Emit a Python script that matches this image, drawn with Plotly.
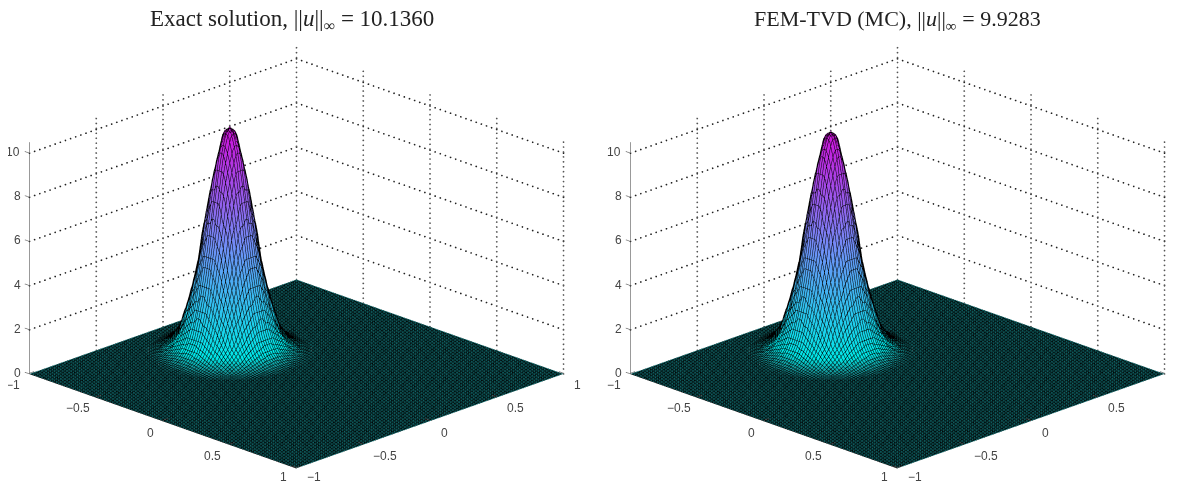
import numpy as np
import plotly.graph_objects as go

# Radial height profiles of the hill, one value per 0.01 of radius
exact_profile = [10.14, 10.11, 10.01, 9.86, 9.64, 9.37, 9.06, 8.69, 8.29, 7.86, 7.40,
                 6.93, 6.44, 5.95, 5.46, 4.99, 4.52, 4.08, 3.65, 3.26, 2.88,
                 2.53, 2.21, 1.92, 1.65, 1.42, 1.21, 1.02, 0.86, 0.72, 0.60,
                 0.49, 0.40, 0.32, 0.26, 0.21, 0.16, 0.12, 0.09, 0.06, 0.04, 0.02, 0.01, 0.0]
fem_profile = [9.93, 9.91, 9.82, 9.67, 9.46, 9.20, 8.89, 8.53, 8.14, 7.72, 7.27,
               6.81, 6.33, 5.85, 5.37, 4.90, 4.45, 4.02, 3.60, 3.21, 2.85,
               2.51, 2.20, 1.91, 1.65, 1.42, 1.21, 1.03, 0.87, 0.73, 0.61,
               0.50, 0.41, 0.33, 0.26, 0.21, 0.16, 0.12, 0.09, 0.06, 0.04, 0.02, 0.01, 0.0]
profile_step = 0.01
hill_center = (-0.5, 0.0)
mesh_cells = 128

xy_ticks = [-1, -0.5, 0, 0.5, 1]
z_ticks = [0, 2, 4, 6, 8, 10]
z_top = 10.5
x_label_shift = [(-16, -11), (-18, -11), (-12, -12), (-17, -11), (-13, -9)]
y_label_shift = [(17, -9), (22, -11), (14, -12), (19, -11), (14, -11)]
titles = ["Exact solution, ||<i>u</i>||<sub>∞</sub> = 10.1360",
          "FEM-TVD (MC), ||<i>u</i>||<sub>∞</sub> = 9.9283"]
title_x = [292, 897]
title_size = [23, 22]

# The page body has an 8 px margin, so the figure is laid out 8 px smaller and offset
PAGE = 8
W, H = 1181 - PAGE, 482 - PAGE
DIST = 2.0
ZOOM = 1.77
EL = np.radians(20.7)
EYE = dict(x=DIST*np.cos(EL)/np.sqrt(2), y=-DIST*np.cos(EL)/np.sqrt(2), z=DIST*np.sin(EL))
domains = [[5/W, 572/W], [606/W, 1.0]]

grid = np.linspace(-1, 1, mesh_cells + 1)


def tick_label(v):
    return str(v).replace("-", "−") if v != 0 else "0"


def surface_z(profile):
    X, Y = np.meshgrid(grid, grid)
    ring = np.rint(np.hypot(X - hill_center[0], Y - hill_center[1]) / profile_step).astype(int)
    lookup = np.array(profile + [0.0])
    return lookup[np.minimum(ring, len(profile))]


def segs(pairs):
    xs, ys, zs = [], [], []
    for a, b in pairs:
        xs += [a[0], b[0], None]
        ys += [a[1], b[1], None]
        zs += [a[2], b[2], None]
    return xs, ys, zs


def dots(pairs, count):
    xs, ys, zs = [], [], []
    for a, b in pairs:
        xs += list(np.linspace(a[0], b[0], count))
        ys += list(np.linspace(a[1], b[1], count))
        zs += list(np.linspace(a[2], b[2], count))
    return xs, ys, zs


def add_panel(fig, profile, scene):
    z = surface_z(profile)
    edge = dict(show=True, start=-1, end=1, size=2/mesh_cells, color="#000000", width=1,
                highlight=False)
    fig.add_trace(go.Surface(
        x=grid, y=grid, z=z, scene=scene, showscale=False, hoverinfo="skip",
        cmin=0, cmax=max(profile),
        colorscale=[[0, "#147c7e"], [0.012, "#14a0a2"], [0.05, "#00e8e8"],
                    [0.5, "#7090f8"], [1, "#d010dc"]],
        lighting=dict(ambient=1, diffuse=0, specular=0, roughness=1, fresnel=0),
        contours=dict(x=edge, y=edge, z=dict(show=False))))
    # dotted wall grid
    horizontal = []
    for t in z_ticks[1:]:
        horizontal.append(((-1, -1, t), (-1, 1, t)))
        horizontal.append(((-1, 1, t), (1, 1, t)))
    x, y, zz = dots(horizontal, 53)
    fig.add_trace(go.Scatter3d(x=x, y=y, z=zz, mode="markers", scene=scene, hoverinfo="skip",
                               showlegend=False, marker=dict(color="#222222", size=1, line=dict(width=0))))
    vertical = []
    for t in xy_ticks[1:]:
        vertical.append(((-1, t, 0), (-1, t, z_top)))
        vertical.append(((t, 1, 0), (t, 1, z_top)))
    x, y, zz = dots(vertical, 48)
    fig.add_trace(go.Scatter3d(x=x, y=y, z=zz, mode="markers", scene=scene, hoverinfo="skip",
                               showlegend=False, marker=dict(color="#555555", size=1, line=dict(width=0))))
    # z axis and tick marks
    marks = [((-1, -1, 0), (-1, -1, z_top))]
    marks += [((-1, -1, t), (-1.035, -1, t)) for t in z_ticks]
    marks += [((t, -1, 0.03), (t, -0.965, 0.03)) for t in xy_ticks]
    marks += [((1, t, 0.03), (0.965, t, 0.03)) for t in xy_ticks]
    x, y, zz = segs(marks)
    fig.add_trace(go.Scatter3d(x=x, y=y, z=zz, mode="lines", scene=scene, hoverinfo="skip",
                               showlegend=False, line=dict(color="#777777", width=1.5)))


def labels():
    ann = []
    font = dict(family="Liberation Sans", size=12, color="#444444")
    base = dict(showarrow=False, font=font, xanchor="center", yanchor="middle")
    for t, s in zip(xy_ticks, x_label_shift):
        ann.append(dict(x=t, y=-1, z=0, text=tick_label(t), xshift=s[0], yshift=s[1], **base))
    for t, s in zip(xy_ticks, y_label_shift):
        ann.append(dict(x=1, y=t, z=0, text=tick_label(t), xshift=s[0], yshift=s[1], **base))
    for t in z_ticks:
        ann.append(dict(x=-1, y=-1, z=t, text=tick_label(t), xshift=-16 if t == 10 else -12, yshift=1, **base))
    return ann


fig = go.Figure()
add_panel(fig, exact_profile, "scene")
add_panel(fig, fem_profile, "scene2")

hidden = dict(visible=False, showgrid=False, zeroline=False, showticklabels=False, showspikes=False)
for name, dom in zip(["scene", "scene2"], domains):
    fig.layout[name] = dict(
        domain=dict(x=dom, y=[0, 448/H]),
        bgcolor="white",
        xaxis=dict(range=[-1.05, 1.05], **hidden),
        yaxis=dict(range=[-1.05, 1.05], **hidden),
        zaxis=dict(range=[0, z_top], **hidden),
        aspectmode="manual",
        aspectratio=dict(x=ZOOM, y=ZOOM, z=0.625*ZOOM),
        camera=dict(eye=EYE, up=dict(x=0, y=0, z=1), center=dict(x=0, y=0, z=0),
                    projection=dict(type="orthographic")),
        annotations=labels())

fig.update_layout(
    width=W, height=H, margin=dict(l=0, r=0, t=0, b=0), paper_bgcolor="white",
    showlegend=False,
    annotations=[dict(xref="paper", yref="paper", x=(px-PAGE)/W, y=1-(20-PAGE)/H, text=t, showarrow=False,
                      xanchor="center", yanchor="middle",
                      font=dict(family="Liberation Serif", size=s, color="#222222"))
                 for t, px, s in zip(titles, title_x, title_size)])

fig.write_html("out.html")
